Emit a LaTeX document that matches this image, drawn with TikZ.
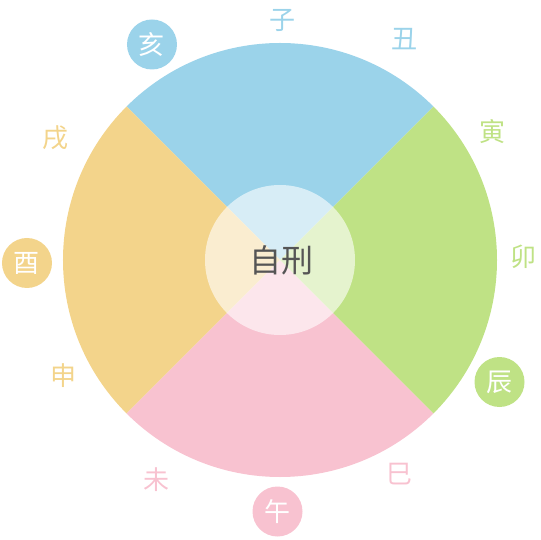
\documentclass[tikz,border=0pt]{standalone}
\usepackage{fontspec}
\newfontfamily\cjk{Noto Sans CJK SC}
\definecolor{ziblue}{RGB}{155, 211, 234}
\definecolor{yingreen}{RGB}{191, 226, 133}
\definecolor{wupink}{RGB}{248, 194, 208}
\definecolor{youorange}{RGB}{243, 212, 139}
\definecolor{textgray}{RGB}{85, 85, 85}
\usepackage{tikz}
\usetikzlibrary{positioning}

\begin{document}
\begin{tikzpicture}[x=1pt, y=1pt,
    branch/.style={inner sep=0pt, font=\cjk\fontsize{26}{26}\selectfont},
    selfbranch/.style={circle, minimum size=50pt, inner sep=0pt, text=white,
                       font=\cjk\fontsize{26}{26}\selectfont}]
    \useasboundingbox (-280, -280) rectangle (260, 260);

    % Quadrants
    \fill[ziblue] (0, 0) -- (45:217pt) arc (45:135:217pt) -- cycle;
    \fill[youorange] (0, 0) -- (135:217pt) arc (135:225:217pt) -- cycle;
    \fill[wupink] (0, 0) -- (225:217pt) arc (225:315:217pt) -- cycle;
    \fill[yingreen] (0, 0) -- (315:217pt) arc (315:405:217pt) -- cycle;

    % Centre
    \fill[white, fill opacity=0.6] (0, 0) circle (75pt);
    \node[text=textgray, font=\cjk\fontsize{32}{32}\selectfont] (zixing) at (1, 0) {自刑};

    % Branches
    \node[branch, text=ziblue] (zi) at (2, 240) {子};
    \node[branch, text=ziblue] (chou) at (124.5, 221) {丑};
    \node[branch, text=yingreen] (yin) at (212, 128) {寅};
    \node[branch, text=yingreen] (mao) at (243, 3) {卯};
    \node[selfbranch, fill=yingreen] (chen) at (219.5, -122) {辰};
    \node[branch, text=wupink] (si) at (119.5, -214.5) {巳};
    \node[selfbranch, fill=wupink] (wu) at (-2.5, -251.5) {午};
    \node[branch, text=wupink] (wei) at (-123, -220) {未};
    \node[branch, text=youorange] (shen) at (-216, -116) {申};
    \node[selfbranch, fill=youorange] (you) at (-253, -3) {酉};
    \node[branch, text=youorange] (xu) at (-224.5, 122.5) {戌};
    \node[selfbranch, fill=ziblue] (hai) at (-128, 215.5) {亥};
\end{tikzpicture}
\end{document}
